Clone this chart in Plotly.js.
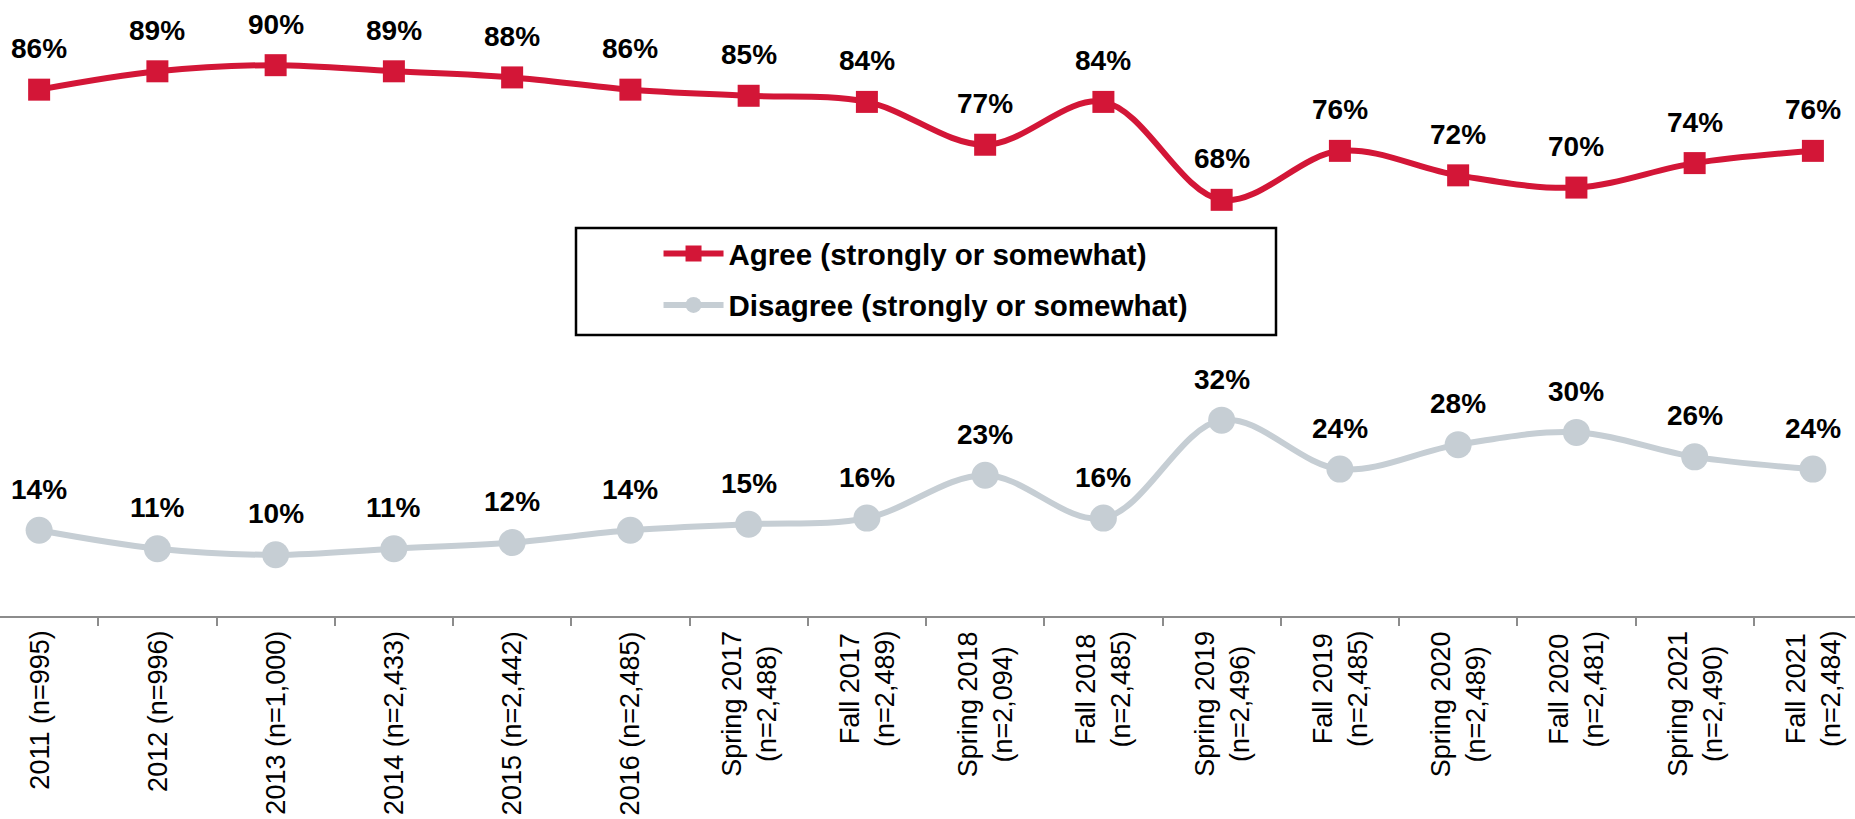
<!DOCTYPE html>
<html lang="en">
<head>
  <meta charset="UTF-8" />
  <title>Agree vs Disagree trend</title>
  <script src="https://cdn.jsdelivr.net/npm/plotly.js-dist@3.0.1/plotly.min.js"></script>
  <style>
    body { margin: 0; background: #fff; }
    #chart { width: 1855px; height: 819px; }
  </style>
</head>
<body>
<div id="chart"></div>
<script>
  // survey waves (tick labels)
  const waves = [
    "2011 (n=995)", "2012 (n=996)", "2013 (n=1,000)", "2014 (n=2,433)",
    "2015 (n=2,442)", "2016 (n=2,485)", "Spring 2017<br>(n=2,488)", "Fall 2017<br>(n=2,489)",
    "Spring 2018<br>(n=2,094)", "Fall 2018<br>(n=2,485)", "Spring 2019<br>(n=2,496)", "Fall 2019<br>(n=2,485)",
    "Spring 2020<br>(n=2,489)", "Fall 2020<br>(n=2,481)", "Spring 2021<br>(n=2,490)", "Fall 2021<br>(n=2,484)"
  ];
  const agree = [86, 89, 90, 89, 88, 86, 85, 84, 77, 84, 68, 76, 72, 70, 74, 76];
  const disagree = [14, 11, 10, 11, 12, 14, 15, 16, 23, 16, 32, 24, 28, 30, 26, 24];

  const red = "#d31637";
  const grey = "#c6ced4";
  const fontFam = "'Liberation Sans', Arial, sans-serif";

  const traces = [
    {
      x: waves, y: agree, name: "Agree (strongly or somewhat)",
      type: "scatter", mode: "lines+markers",
      line: { color: red, width: 6, shape: "spline", smoothing: 1 },
      marker: { symbol: "square", size: 22, color: red },
      legendgroup: "a", cliponaxis: false
    },
    {
      x: waves, y: disagree, name: "Disagree (strongly or somewhat)",
      type: "scatter", mode: "lines+markers",
      line: { color: grey, width: 6, shape: "spline", smoothing: 1 },
      marker: { symbol: "circle", size: 27, color: grey },
      legendgroup: "b", cliponaxis: false
    }
  ];

  // data labels above each point
  function labels(vals) {
    return vals.map((v, i) => ({
      x: waves[i], y: v, text: "<b>" + v + "%</b>",
      showarrow: false, yanchor: "middle", yshift: 41,
      font: { family: fontFam, size: 28, color: "#000" }
    }));
  }

  // category labels, centred lines, rotated
  const tickLabels = waves.map(w => ({
    x: w, xref: "x", y: 0, yref: "paper", text: w,
    showarrow: false, textangle: -90, yanchor: "top", align: "center",
    yshift: -13,
    font: { family: fontFam, size: 27, color: "#000" }
  }));

  const layout = {
    width: 1855, height: 819,
    margin: { l: 0, r: 0, t: 0, b: 203 },
    paper_bgcolor: "#fff", plot_bgcolor: "#fff",
    font: { family: fontFam, color: "#000" },
    showlegend: true,
    legend: {
      x: 0.355, y: 0.63, xanchor: "left", yanchor: "top",
      bgcolor: "rgba(0,0,0,0)", borderwidth: 0,
      traceorder: "grouped", tracegroupgap: 10, itemwidth: 60,
      font: { family: fontFam, size: 29.5, color: "#000", weight: "bold" }
    },
    xaxis: {
      type: "category", range: [-0.331, 15.356], fixedrange: true,
      showline: true, linecolor: "#8c8c8c", linewidth: 2,
      ticks: "outside", tickson: "boundaries", ticklen: 8, tickcolor: "#8c8c8c", tickwidth: 2,
      showticklabels: false, showgrid: false, zeroline: false
    },
    yaxis: {
      range: [0, 100.65], visible: false, showgrid: false, zeroline: false, fixedrange: true
    },
    shapes: [{
      type: "rect", xref: "paper", yref: "paper",
      x0: 576 / 1855, x1: 1276 / 1855, y0: 1 - 335 / 616, y1: 1 - 228 / 616,
      line: { color: "#000", width: 2.5 }
    }],
    annotations: labels(agree).concat(labels(disagree), tickLabels)
  };

  Plotly.newPlot("chart", traces, layout, { staticPlot: true });
</script>
</body>
</html>
